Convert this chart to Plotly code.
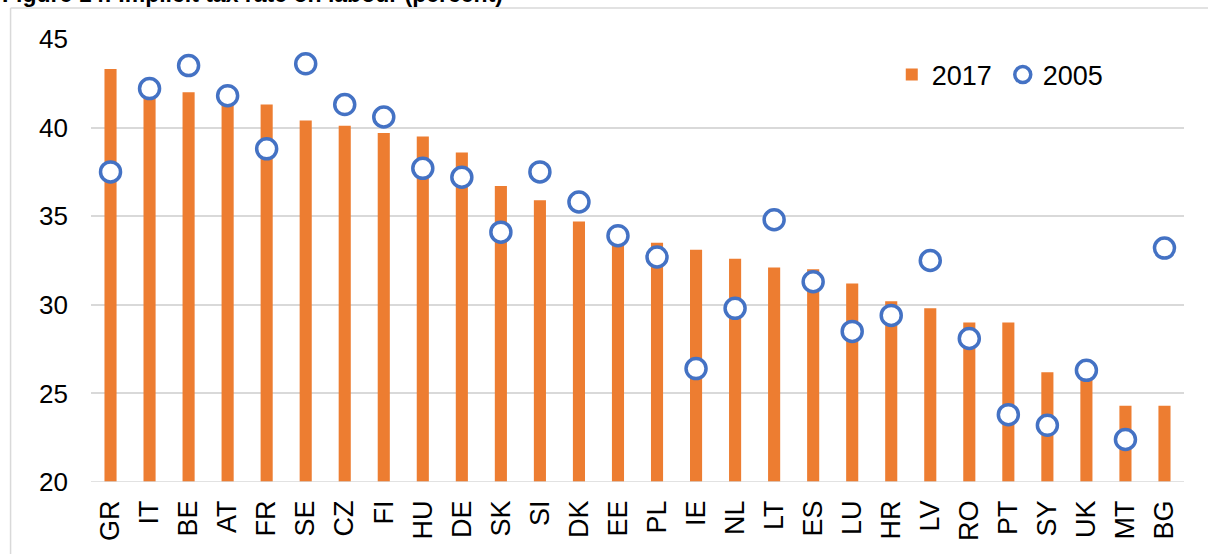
import plotly.graph_objects as go

countries = ["GR", "IT", "BE", "AT", "FR", "SE", "CZ", "FI", "HU", "DE", "SK", "SI", "DK", "EE",
             "PL", "IE", "NL", "LT", "ES", "LU", "HR", "LV", "RO", "PT", "SY", "UK", "MT", "BG"]
v2017 = [43.3, 42.1, 42.0, 41.6, 41.3, 40.4, 40.1, 39.7, 39.5, 38.6, 36.7, 35.9, 34.7, 33.7,
         33.5, 33.1, 32.6, 32.1, 32.0, 31.2, 30.2, 29.8, 29.0, 29.0, 26.2, 26.0, 24.3, 24.3]
v2005 = [37.5, 42.2, 43.5, 41.8, 38.8, 43.6, 41.3, 40.6, 37.7, 37.2, 34.1, 37.5, 35.8, 33.9,
         32.7, 26.4, 29.8, 34.8, 31.3, 28.5, 29.4, 32.5, 28.1, 23.8, 23.2, 26.3, 22.4, 33.2]
y_ticks = [20, 25, 30, 35, 40, 45]

W, H = 1208, 554
L, R, T, B = 90.5, 23.5, 39, 72
pw, ph = W - L - R, H - T - B


def px(x):
    return (x - L) / pw


def py(y):
    return (H - B - y) / ph


FONT = "Liberation Sans, Arial, sans-serif"
ORANGE = "#ED7D31"
BLUE = "#4472C4"
GRID = "#D9D9D9"

fig = go.Figure()
fig.add_trace(go.Bar(x=countries, y=v2017, name="2017", marker=dict(color=ORANGE, line=dict(width=0))))
fig.add_trace(go.Scatter(x=countries, y=v2005, name="2005", mode="markers", cliponaxis=False,
                         marker=dict(symbol="circle", size=20, color="white",
                                     line=dict(color=BLUE, width=3.5))))

fig.update_layout(
    width=W, height=H,
    margin=dict(l=L, r=R, t=T, b=B, pad=0),
    paper_bgcolor="white", plot_bgcolor="white",
    bargap=0.69,
    font=dict(family=FONT, size=26, color="#000000"),
    showlegend=True,
    legend=dict(orientation="h", x=px(892), y=py(75), xanchor="left", yanchor="middle",
                font=dict(size=27, family=FONT, color="#000000"),
                bgcolor="rgba(0,0,0,0)", itemsizing="trace", traceorder="normal",
                entrywidth=66, entrywidthmode="pixels", tracegroupgap=0),
    xaxis=dict(type="category", showgrid=False, showline=False, zeroline=False,
               ticks="", tickangle=-90, tickfont=dict(size=27, family=FONT, color="#000000"),
               ticklabelstandoff=12, range=[-0.5, len(countries) - 0.5]),
    yaxis=dict(range=[20, 45], tickvals=y_ticks, showgrid=True, gridcolor=GRID, gridwidth=1.5,
               zeroline=False, showline=False, ticks="",
               tickfont=dict(size=26, family=FONT, color="#000000"), ticklabelstandoff=22),
    shapes=[
        dict(type="line", xref="paper", yref="paper", x0=px(10), x1=px(W + 5), y0=py(8), y1=py(8),
             line=dict(color=GRID, width=1.5)),
        dict(type="line", xref="paper", yref="paper", x0=px(10), x1=px(10), y0=py(8), y1=py(H + 5),
             line=dict(color=GRID, width=1.5)),
        dict(type="line", xref="paper", yref="y", x0=0, x1=1, y0=20, y1=20,
             line=dict(color=GRID, width=1.5), layer="above"),
    ],
    annotations=[
        dict(text="<b>Figure 14: Implicit tax rate on labour (percent)</b>", xref="paper", yref="paper",
             x=px(-1), y=py(9), xanchor="left", yanchor="bottom", showarrow=False,
             font=dict(size=23, family=FONT, color="#000000")),
    ],
)

fig.write_html("out.html", config={"displayModeBar": False},
               post_script="document.body.style.margin='0';document.body.style.overflow='hidden';")
